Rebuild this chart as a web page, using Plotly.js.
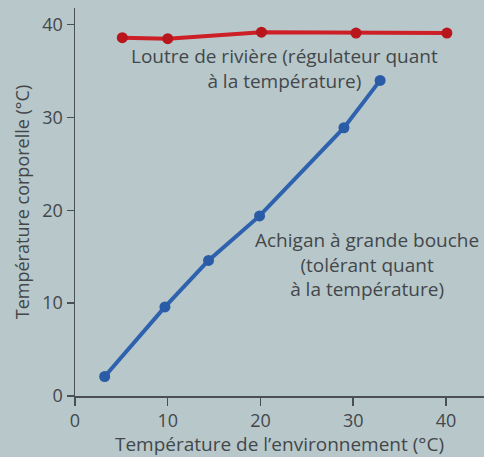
<!DOCTYPE html>
<html>
<head>
<meta charset="utf-8">
<script src="https://cdn.plot.ly/plotly-3.0.1.min.js"></script>
<style>html,body{margin:0;padding:0;background:#b8c7ca;}#chart{width:484px;height:457px;}</style>
</head>
<body>
<div id="chart"></div>
<script>
const otterX = [5.1, 10.0, 20.1, 30.3, 40.1];
const otterY = [38.6, 38.5, 39.2, 39.1, 39.1];
const bassX = [3.2, 9.7, 14.4, 19.9, 29.0, 32.9];
const bassY = [2.1, 9.6, 14.6, 19.4, 28.9, 34.0];
const xTicks = [0, 10, 20, 30, 40];
const yTicks = [0, 10, 20, 30, 40];
const otterLabel = "Loutre de rivière (régulateur quant<br>à la température)";
const bassLabel = "Achigan à grande bouche<br>(tolérant quant<br>à la température)";

const font = "Open Sans, Noto Sans, sans-serif";
const textColor = "#43474a";

const traces = [
  {x: bassX, y: bassY, mode: "lines+markers", type: "scatter",
   line: {color: "#2e62ae", width: 4}, marker: {color: "#2a5ba6", size: 11}},
  {x: otterX, y: otterY, mode: "lines+markers", type: "scatter",
   line: {color: "#cc1f26", width: 4}, marker: {color: "#b8151d", size: 11}}
];

const layout = {
  width: 484, height: 457,
  margin: {l: 75, r: 0, t: 8, b: 61},
  paper_bgcolor: "#b8c7ca", plot_bgcolor: "#b8c7ca",
  showlegend: false,
  font: {family: font, color: textColor, size: 19},
  xaxis: {range: [0, 44.1], tickvals: xTicks, ticktext: xTicks.map(String),
    showgrid: false, zeroline: false, showline: true, linecolor: "#4a4f52", linewidth: 1.5,
    ticks: "outside", ticklen: 8, tickcolor: "#4a4f52", tickwidth: 1.5,
    tickfont: {size: 18, color: textColor},
    title: {text: "Température de l’environnement (°C)", font: {size: 19, color: textColor}, standoff: 3}},
  yaxis: {range: [0, 41.8], tickvals: yTicks, ticktext: yTicks.map(String),
    showgrid: false, zeroline: false, showline: true, linecolor: "#4a4f52", linewidth: 1.5,
    ticks: "outside", ticklen: 7, tickcolor: "#4a4f52", tickwidth: 1.5,
    tickfont: {size: 18, color: textColor},
    title: {text: "Température corporelle (°C)", font: {size: 18, color: textColor}, standoff: 8}},
  annotations: [
    {x: 22.6, y: 35.3, xref: "x", yref: "y", text: otterLabel, showarrow: false,
     font: {size: 19, color: textColor}, align: "center"},
    {x: 31.5, y: 14.2, xref: "x", yref: "y", text: bassLabel, showarrow: false,
     font: {size: 19, color: textColor}, align: "center"}
  ]
};

Plotly.newPlot("chart", traces, layout, {displayModeBar: false, staticPlot: true});
</script>
</body>
</html>
